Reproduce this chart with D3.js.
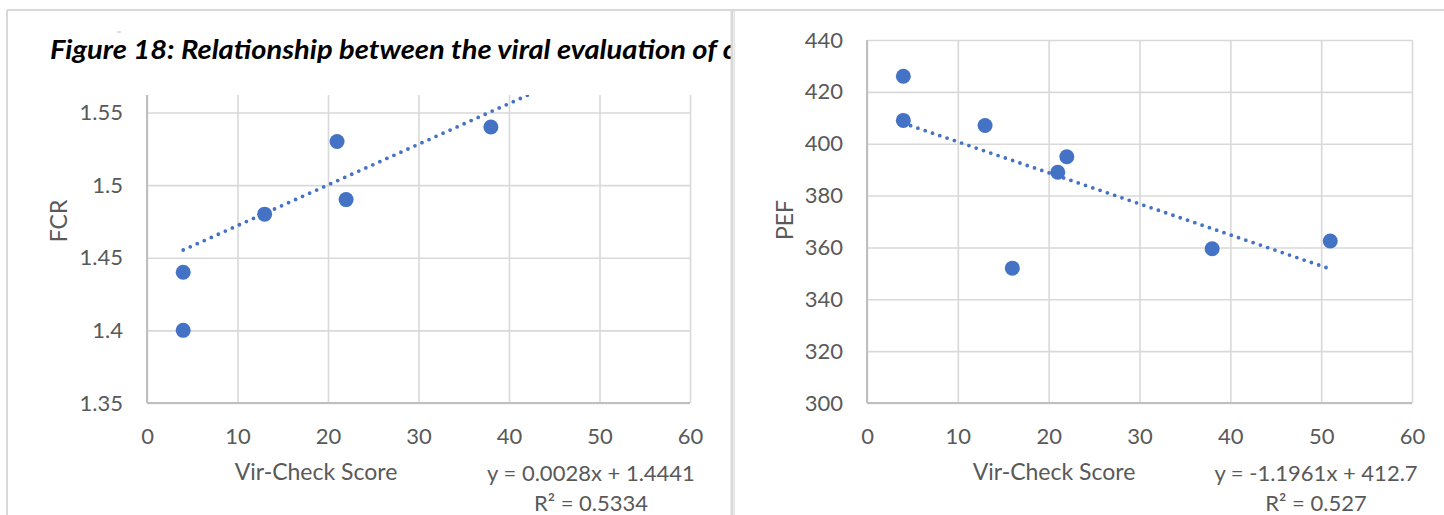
<!DOCTYPE html>
<html>
<head>
<meta charset="utf-8">
<script src="https://cdn.jsdelivr.net/npm/d3@7"></script>
<style>
  body { margin: 0; background: #fff; }
  svg { display: block; }
</style>
</head>
<body>
<div id="chart"></div>
<script>
const width = 1444,
      height = 515;

// data
const xTicks = [0, 10, 20, 30, 40, 50, 60];
const fcrTicks = [1.35, 1.4, 1.45, 1.5, 1.55];
const pefTicks = [300, 320, 340, 360, 380, 400, 420, 440];
const fcrScores = [4, 4, 13, 21, 22, 38];
const fcrValues = [1.44, 1.40, 1.48, 1.53, 1.49, 1.54];
const pefScores = [4, 4, 13, 16, 21, 22, 38, 51];
const pefValues = [426, 409, 407, 352, 389, 395, 359.5, 362.5];
const fcrTrend = { slope: 0.0028, intercept: 1.4441, from: 4, to: 51 };
const pefTrend = { slope: -1.1961, intercept: 412.7, from: 4, to: 51 };
const fcrLabels = ["y = 0.0028x + 1.4441", "R² = 0.5334"];
const pefLabels = ["y = -1.1961x + 412.7", "R² = 0.527"];
const titleText = "Figure 18: Relationship between the viral evaluation of c";

const blue = "#4472C4",
      grid = "#d9d9d9",
      textColor = "#595959",
      font = "Lato, 'Open Sans', sans-serif";

const svg = d3.select("#chart")
  .append("svg")
  .attr("width", width)
  .attr("height", height);

// left panel frame
svg.append("line").attr("x1", 7).attr("x2", 7).attr("y1", 10).attr("y2", height)
  .attr("stroke", grid).attr("stroke-width", 2);
svg.append("line").attr("x1", 7).attr("x2", 733).attr("y1", 10).attr("y2", 10)
  .attr("stroke", grid).attr("stroke-width", 2);
svg.append("line").attr("x1", 117).attr("x2", 121).attr("y1", 32).attr("y2", 32)
  .attr("stroke", "#bbb").attr("stroke-width", 1);

function drawChart(cfg) {
  const g = svg.append("g");
  const x = d3.scaleLinear().domain([0, 60]).range([cfg.left, cfg.right]);
  const y = d3.scaleLinear().domain(cfg.yDomain).range([cfg.bottom, cfg.top]);
  const w = cfg.right - cfg.left,
        h = cfg.bottom - cfg.top;

  // horizontal gridlines + y labels
  const ya = g.append("g")
    .attr("transform", `translate(${cfg.left},0)`)
    .call(d3.axisLeft(y).tickValues(cfg.yTicks).tickSize(-w).tickPadding(24).tickFormat(d => String(d)));
  ya.select(".domain").remove();
  ya.selectAll("line").attr("stroke", grid).attr("stroke-width", 1.6);
  ya.selectAll("text").attr("fill", textColor).style("font-family", font).style("font-size", "22px");

  // vertical gridlines + x labels
  const xa = g.append("g")
    .attr("transform", `translate(0,${cfg.bottom})`)
    .call(d3.axisBottom(x).tickValues(xTicks).tickSize(-h).tickPadding(25));
  xa.select(".domain").remove();
  xa.selectAll("line").attr("stroke", grid).attr("stroke-width", 1.6);
  xa.selectAll("text").attr("fill", textColor).style("font-family", font).style("font-size", "22px");

  // axis lines
  g.append("line").attr("x1", cfg.left).attr("x2", cfg.left).attr("y1", cfg.top).attr("y2", cfg.bottom)
    .attr("stroke", "#bfbfbf").attr("stroke-width", 2);
  g.append("line").attr("x1", cfg.left).attr("x2", cfg.right).attr("y1", cfg.bottom).attr("y2", cfg.bottom)
    .attr("stroke", "#bfbfbf").attr("stroke-width", 2);

  // clip for trend line
  g.append("clipPath").attr("id", cfg.id + "-clip")
    .append("rect").attr("x", cfg.left).attr("y", cfg.top).attr("width", w).attr("height", h);

  const t = cfg.trend;
  const trendData = [t.from, t.to].map(v => ({ x: v, y: t.slope * v + t.intercept }));
  g.append("path")
    .datum(trendData)
    .attr("clip-path", `url(#${cfg.id}-clip)`)
    .attr("fill", "none")
    .attr("stroke", blue)
    .attr("stroke-width", 3.8)
    .attr("stroke-linecap", "round")
    .attr("stroke-dasharray", "0 7.7")
    .attr("d", d3.line().x(d => x(d.x)).y(d => y(d.y)));

  g.selectAll(".dot")
    .data(cfg.xs.map((v, i) => ({ x: v, y: cfg.ys[i] })))
    .join("circle")
    .attr("class", "dot")
    .attr("cx", d => x(d.x))
    .attr("cy", d => y(d.y))
    .attr("r", 7.5)
    .attr("fill", blue);

  // axis titles
  g.append("text")
    .attr("transform", `translate(${cfg.yTitleX},${cfg.yTitleY}) rotate(-90)`)
    .attr("text-anchor", "middle")
    .attr("fill", textColor)
    .style("font-family", font)
    .style("font-size", "23px")
    .text(cfg.yTitle);
  g.append("text")
    .attr("x", cfg.xTitleX)
    .attr("y", 480)
    .attr("text-anchor", "middle")
    .attr("fill", textColor)
    .style("font-family", font)
    .style("font-size", "23px")
    .text("Vir-Check Score");

  // trend equation
  cfg.labels.forEach((s, i) => {
    g.append("text")
      .attr("x", cfg.eqX)
      .attr("y", 481 + i * 30)
      .attr("text-anchor", "middle")
      .attr("fill", textColor)
      .style("font-family", font)
      .style("font-size", "22px")
      .text(s);
  });
}

drawChart({
  id: "fcr", left: 147, right: 690, top: 95, bottom: 403,
  yDomain: [1.35, 1.562], yTicks: fcrTicks,
  xs: fcrScores, ys: fcrValues, trend: fcrTrend,
  yTitle: "FCR", yTitleX: 67, yTitleY: 221, xTitleX: 316, eqX: 591, labels: fcrLabels
});

// title, cut off by the right panel
svg.append("text")
  .attr("x", 50)
  .attr("y", 59)
  .attr("fill", "#000")
  .style("font-family", font)
  .style("font-size", "26px")
  .style("font-weight", "bold")
  .style("font-style", "italic")
  .attr("textLength", 686)
  .attr("lengthAdjust", "spacingAndGlyphs")
  .text(titleText);

// right panel
svg.append("rect").attr("x", 731).attr("y", 0).attr("width", width - 731).attr("height", height).attr("fill", "#fff");
svg.append("line").attr("x1", 732).attr("x2", 732).attr("y1", 10).attr("y2", height)
  .attr("stroke", grid).attr("stroke-width", 3);
svg.append("line").attr("x1", 734.5).attr("x2", 734.5).attr("y1", 10).attr("y2", height)
  .attr("stroke", "#e3e3e3").attr("stroke-width", 1);
svg.append("line").attr("x1", 731).attr("x2", width).attr("y1", 10).attr("y2", 10)
  .attr("stroke", grid).attr("stroke-width", 2);

drawChart({
  id: "pef", left: 867, right: 1412, top: 40, bottom: 403,
  yDomain: [300, 440], yTicks: pefTicks,
  xs: pefScores, ys: pefValues, trend: pefTrend,
  yTitle: "PEF", yTitleX: 793, yTitleY: 220, xTitleX: 1054, eqX: 1316, labels: pefLabels
});
</script>
</body>
</html>
